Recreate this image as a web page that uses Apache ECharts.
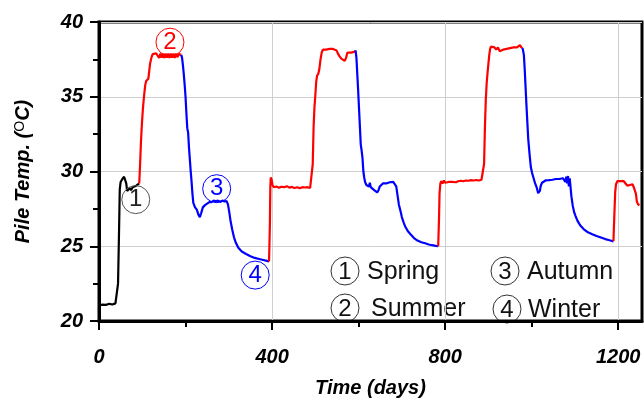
<!DOCTYPE html>
<html>
<head>
<meta charset="utf-8">
<script src="https://cdn.jsdelivr.net/npm/echarts@6/dist/echarts.min.js"></script>
<style>
  html, body { margin: 0; padding: 0; background: #fff; }
  #chart { width: 644px; height: 403px; }
</style>
</head>
<body>
<div id="chart"></div>
<script>
// Pile temperature record, [day, °C] pairs, split by operating season
const startUp = [[0,21.05],[8,21.1],[16,21.08],[24,21.15],[28,21.22],[31,21.1],[38,21.18],[42,21.2],[44,22.5],[46,25.5],[48,28.8],[50,29.3],[54,29.5],[58,29.65],[61,29.6],[63,29.2],[65,28.7],[68,28.6],[71,28.9],[74,28.75],[78,28.95],[82,28.9],[86,29.05],[90,29.1],[93,29.2]];

const heating1 = [[93,29.2],[95,30.5],[97,32.0],[99,33.1],[101,34.0],[103,34.7],[105,35.3],[107,35.8],[109,36.05],[112,36.1],[114,36.2],[116,36.7],[118,37.2],[121,37.6],[124,37.85],[128,37.95],[132,37.9],[136,37.85],[139,37.6],[142,37.88],[145,37.62],[148,37.88],[151,37.6],[154,37.88],[157,37.62],[160,37.88],[163,37.6],[166,37.88],[169,37.62],[172,37.88],[175,37.6],[178,37.88],[181,37.65],[185,37.85],[190,37.8]];

const cooling1 = [[190,37.8],[192,37.6],[194,37.1],[196,36.5],[198,35.8],[200,35.0],[202,33.9],[204,32.9],[206,32.6],[208,31.6],[210,30.8],[212,30.0],[214,29.3],[216,28.5],[218,27.9],[222,27.6],[226,27.45],[230,27.1],[233,26.95],[236,27.2],[240,27.6],[245,27.75],[250,27.85],[255,27.95],[260,27.95],[265,28.05],[270,28.0],[275,28.05],[280,27.98],[285,28.05],[290,28.0],[295,28.02],[298,27.8],[301,27.3],[304,26.7],[308,26.1],[312,25.6],[316,25.25],[322,24.9],[330,24.65],[340,24.48],[350,24.33],[360,24.22],[370,24.15],[380,24.08],[388,24.02],[393,23.98]];

const heating2 = [[393,23.98],[395,26.5],[396,29.0],[397,29.6],[399,29.45],[401,29.1],[404,28.95],[410,29.0],[416,28.92],[422,28.98],[428,28.95],[434,29.02],[440,28.92],[446,28.97],[452,28.9],[458,28.95],[464,28.88],[470,28.95],[476,28.93],[482,28.95],[488,28.9],[492,28.95],[494,30.5],[496,33.0],[498,34.3],[500,35.1],[502,36.0],[504,36.4],[507,36.55],[509,36.8],[512,37.5],[515,38.0],[518,38.15],[521,38.25],[525,38.15],[529,38.25],[533,38.2],[537,38.25],[541,38.2],[545,38.25],[549,38.1],[552,37.9],[556,37.7],[560,37.55],[564,37.45],[568,37.4],[571,37.6],[574,37.95],[578,38.0],[582,37.95],[586,38.05],[590,38.0],[593,38.1]];

const cooling2 = [[593,38.1],[595,37.6],[597,36.5],[599,35.4],[601,34.2],[603,33.0],[605,31.8],[607,31.4],[609,30.9],[611,30.0],[613,29.6],[615,29.3],[618,29.1],[621,29.15],[624,29.0],[626,29.25],[628,28.95],[632,28.9],[636,28.75],[640,28.65],[643,28.6],[646,28.75],[649,29.0],[652,29.1],[656,29.2],[660,29.25],[664,29.2],[668,29.3],[672,29.28],[676,29.32],[680,29.3],[684,29.25],[687,29.0],[690,28.4],[693,27.8],[696,27.45],[700,26.95],[704,26.6],[708,26.3],[714,26.0],[720,25.8],[728,25.55],[736,25.38],[745,25.27],[754,25.2],[762,25.12],[770,25.07],[778,25.03],[784,25.0]];

const heating3 = [[784,25.0],[786,27.0],[787,28.5],[789,29.2],[791,29.35],[794,29.2],[797,29.4],[800,29.25],[804,29.35],[808,29.3],[812,29.4],[816,29.3],[820,29.35],[825,29.28],[830,29.35],[836,29.38],[842,29.35],[848,29.4],[854,29.38],[860,29.42],[866,29.4],[872,29.43],[878,29.4],[884,29.45],[888,29.45],[890,30.5],[892,33.0],[894,34.8],[896,35.9],[898,36.6],[900,37.2],[902,37.8],[904,38.2],[906,38.35],[910,38.25],[914,38.3],[918,38.15],[922,38.3],[926,38.05],[930,38.0],[934,38.15],[938,38.1],[942,38.2],[946,38.15],[950,38.25],[954,38.2],[958,38.3],[962,38.25],[966,38.3],[970,38.25],[973,38.45],[976,38.3],[979,38.25]];

const cooling3 = [[979,38.25],[982,37.8],[984,36.8],[986,35.6],[988,34.4],[990,33.3],[992,32.2],[995,31.2],[998,30.3],[1001,29.9],[1004,29.6],[1008,29.2],[1012,28.9],[1015,28.55],[1017,28.45],[1019,28.7],[1021,29.05],[1024,29.25],[1028,29.35],[1032,29.4],[1036,29.38],[1040,29.42],[1044,29.4],[1048,29.45],[1052,29.42],[1056,29.5],[1060,29.45],[1064,29.5],[1068,29.45],[1072,29.55],[1076,29.6],[1078,29.3],[1080,29.65],[1082,29.2],[1084,29.7],[1086,29.0],[1088,29.55],[1090,28.9],[1092,28.3],[1095,27.7],[1098,27.3],[1101,27.05],[1106,26.7],[1112,26.4],[1120,26.15],[1130,25.93],[1140,25.8],[1150,25.68],[1160,25.58],[1170,25.48],[1180,25.4],[1189,25.33]];

const heating4 = [[1189,25.33],[1191,27.0],[1193,28.6],[1195,29.15],[1198,29.35],[1201,29.4],[1205,29.35],[1209,29.4],[1213,29.35],[1217,29.2],[1221,29.05],[1224,28.98],[1227,29.1],[1230,29.2],[1233,29.15],[1236,28.95],[1239,28.87],[1241,28.5],[1243,28.0],[1246,27.8],[1249,27.73]];

// Axis ticks
const xMajorTicks = [0, 400, 800, 1200];
const xMinorTicks = [200, 600, 1000];
const yMinorTicks = [22.5, 27.5, 32.5, 37.5];

// Season key
const seasonNumbers = ['1', '2', '3', '4'];
const seasonNames = ['Spring', 'Summer', 'Autumn', 'Winter'];

// Season tags placed beside the curve: [day, °C]
const seasonTagSpots = [[85, 28.12], [164, 38.65], [272, 28.85], [361, 23.07]];

const RED = '#ff0000', BLUE = '#0000ff', BLACK = '#000000';

function tag(i, color, textColor) {
  return {
    coord: seasonTagSpots[i],
    symbol: 'circle',
    symbolSize: 28,
    itemStyle: { color: 'rgba(0,0,0,0)', borderColor: color, borderWidth: 1 },
    label: {
      show: true, position: 'inside', formatter: seasonNumbers[i],
      color: textColor, fontSize: 24, fontFamily: 'Liberation Sans'
    }
  };
}

function segment(data, color, tags) {
  return {
    type: 'line',
    data: data,
    showSymbol: false,
    symbol: 'none',
    lineStyle: { color: color, width: 2.2 },
    itemStyle: { color: color },
    z: 3,
    markPoint: tags ? { silent: true, data: tags, animation: false } : undefined
  };
}

const tickFont = { fontSize: 20, fontWeight: 'bold', fontStyle: 'italic', fontFamily: 'Liberation Sans', color: '#000' };
const plain = v => String(v);

// An invisible companion axis that carries only the short intermediate ticks
function minorAxis(min, max, values, extra) {
  return Object.assign({
    type: 'value', min: min, max: max, gridIndex: 0,
    axisLine: { show: false, onZero: false },
    axisTick: { show: true, inside: false, length: 6, lineStyle: { color: '#000', width: 2 }, customValues: values },
    axisLabel: { show: false },
    splitLine: { show: false }
  }, extra);
}

function keyItem(cx, cy, num, name, textX) {
  return [
    { type: 'circle', shape: { cx: cx, cy: cy, r: 14 }, style: { fill: 'none', stroke: '#333', lineWidth: 1 } },
    { type: 'text', x: cx, y: cy + 1, style: { text: num, fontSize: 24, fontFamily: 'Liberation Sans', fill: '#111', align: 'center', verticalAlign: 'middle' } },
    { type: 'text', x: textX, y: cy + 1, style: { text: name, fontSize: 25, fontFamily: 'Liberation Sans', fill: '#111', align: 'left', verticalAlign: 'middle' } }
  ];
}

const chart = echarts.init(document.getElementById('chart'), null, { renderer: 'canvas' });

chart.setOption({
  animation: false,
  backgroundColor: '#fff',
  grid: {
    left: 99, right: 2, top: 22, bottom: 70,
    show: true, borderColor: '#000', borderWidth: 3, backgroundColor: 'rgba(0,0,0,0)'
  },
  xAxis: [{
    type: 'value', min: 0, max: 1255,
    name: 'Time (days)', nameLocation: 'middle', nameGap: 57,
    nameTextStyle: { fontSize: 20, fontWeight: 'bold', fontStyle: 'italic', fontFamily: 'Liberation Sans', color: '#000' },
    axisLine: { show: true, onZero: false, lineStyle: { color: '#000', width: 3 } },
    axisTick: { show: true, inside: false, length: 9, lineStyle: { color: '#000', width: 2 }, customValues: xMajorTicks },
    axisLabel: Object.assign({ margin: 26, customValues: xMajorTicks, formatter: plain }, tickFont),
    splitLine: { show: true, lineStyle: { color: '#cfcfcf', width: 1 } }
  }, minorAxis(0, 1255, xMinorTicks, { position: 'bottom' })],
  yAxis: [{
    type: 'value', min: 20, max: 40, interval: 5,
    name: 'Pile Temp. ({s|O}C)', nameLocation: 'middle', nameGap: 66,
    nameTextStyle: {
      fontSize: 20, fontWeight: 'bold', fontStyle: 'italic', fontFamily: 'Liberation Sans', color: '#000',
      rich: { s: { fontSize: 14, fontWeight: 'normal', fontStyle: 'normal', fontFamily: 'Liberation Sans', color: '#000', verticalAlign: 'top', lineHeight: 14 } }
    },
    axisLine: { show: true, onZero: false, lineStyle: { color: '#000', width: 3 } },
    axisTick: { show: true, inside: false, length: 9, lineStyle: { color: '#000', width: 2 } },
    axisLabel: Object.assign({ margin: 16, formatter: plain }, tickFont),
    splitLine: { show: true, lineStyle: { color: '#cfcfcf', width: 1 } }
  }, minorAxis(20, 40, yMinorTicks, { position: 'left' })],
  series: [
    segment(startUp, BLACK, [tag(0, '#555', '#222')]),
    segment(heating1, RED, [tag(1, RED, RED)]),
    segment(cooling1, BLUE, [tag(2, BLUE, BLUE), tag(3, BLUE, BLUE)]),
    segment(heating2, RED),
    segment(cooling2, BLUE),
    segment(heating3, RED),
    segment(cooling3, BLUE),
    segment(heating4, RED)
  ],
  graphic: [].concat(
    keyItem(345, 271, seasonNumbers[0], seasonNames[0], 367),
    keyItem(345, 308, seasonNumbers[1], seasonNames[1], 371),
    keyItem(505, 271, seasonNumbers[2], seasonNames[2], 527),
    keyItem(507, 309, seasonNumbers[3], seasonNames[3], 528)
  )
});
</script>
</body>
</html>
